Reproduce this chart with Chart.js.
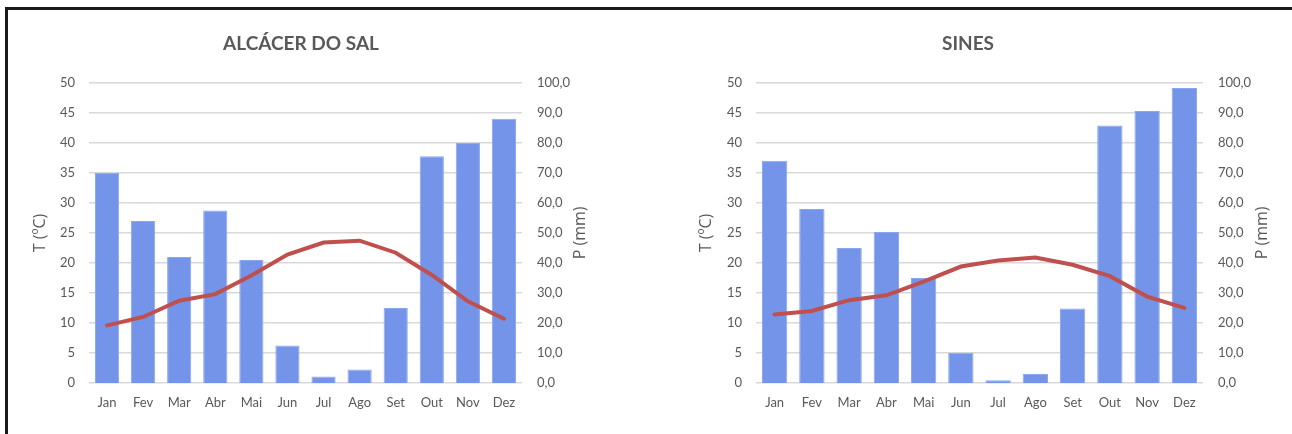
<!DOCTYPE html>
<html lang="pt">
<head>
<meta charset="UTF-8">
<title>Climogramas</title>
<script src="https://cdn.jsdelivr.net/npm/chart.js@4.4.0/dist/chart.umd.min.js"></script>
<style>
  body { margin: 0; background: #fff; width: 1292px; height: 434px; overflow: hidden; position: relative; }
  .moldura { position: absolute; left: 5px; top: 7px; width: 1300px; height: 440px;
             border-top: 3px solid #1a1a1a; border-left: 3px solid #1a1a1a; }
  canvas { position: absolute; }
  #grafAlcacer { left: 12px; top: 12px; }
  #grafSines { left: 664px; top: 12px; }
</style>
</head>
<body>
<div class="moldura"></div>
<canvas id="grafAlcacer" width="578" height="401"></canvas>
<canvas id="grafSines" width="608" height="401"></canvas>

<script>
  // meses
  const meses = ['Jan', 'Fev', 'Mar', 'Abr', 'Mai', 'Jun', 'Jul', 'Ago', 'Set', 'Out', 'Nov', 'Dez'];

  // Alcácer do Sal - precipitação (mm) e temperatura (ºC)
  const precAlcacer = [70, 54, 42, 57.5, 41, 12.5, 2.2, 4.5, 25, 75.5, 80, 88];
  const tempAlcacer = [9.6, 11.0, 13.7, 14.8, 17.9, 21.4, 23.4, 23.7, 21.7, 18.0, 13.6, 10.7];

  // Sines
  const precSines = [74, 58, 45, 50.3, 35, 10.1, 0.9, 3.0, 24.8, 85.8, 90.6, 98.3];
  const tempSines = [11.4, 12.0, 13.8, 14.6, 16.9, 19.4, 20.4, 20.9, 19.7, 17.8, 14.4, 12.5];

  const corTexto = '#595959';
  const fonteTicks = { family: 'Lato', size: 13 };

  // titulo do eixo direito escrito de baixo para cima (como no Excel)
  const tituloDireita = {
    id: 'tituloDireita',
    afterDraw(chart) {
      const ctx = chart.ctx;
      const y = chart.scales.y2;
      ctx.save();
      ctx.translate(y.right - 10, (chart.chartArea.top + chart.chartArea.bottom) / 2);
      ctx.rotate(-Math.PI / 2);
      ctx.fillStyle = corTexto;
      ctx.font = '16px "Open Sans"';
      ctx.textAlign = 'center';
      ctx.textBaseline = 'middle';
      ctx.fillText('P (mm)', 0, 0);
      ctx.restore();
    }
  };

  function criarGrafico(id, titulo, prec, temp, larguraEsq, larguraDir, padTituloEsq, catPct) {
    const config = {
      data: {
        labels: meses,
        datasets: [
          {
            type: 'line',
            label: 'T',
            data: temp,
            yAxisID: 'y',
            borderColor: '#C0504D',
            borderWidth: 4,
            pointRadius: 0,
            tension: 0,
            borderCapStyle: 'round',
            order: 0
          },
          {
            type: 'bar',
            label: 'P',
            data: prec,
            yAxisID: 'y2',
            backgroundColor: '#7494EA',
            borderColor: '#8aa6ee',
            borderWidth: 1,
            barPercentage: 1,
            categoryPercentage: catPct,
            order: 1
          }
        ]
      },
      options: {
        responsive: false,
        devicePixelRatio: 1,
        animation: false,
        layout: { padding: 0 },
        plugins: {
          legend: { display: false },
          tooltip: { enabled: false },
          title: {
            display: true,
            text: titulo,
            color: corTexto,
            font: { family: 'Lato', size: 19, weight: 'bold' },
            padding: { top: 20, bottom: 28 }
          }
        },
        scales: {
          x: {
            grid: { display: false, drawTicks: false },
            border: { display: false },
            ticks: { color: corTexto, font: fonteTicks, padding: 12 },
            afterFit(s) { s.height = 30; }
          },
          y: {
            position: 'left',
            min: 0, max: 50,
            ticks: { stepSize: 5, color: corTexto, font: fonteTicks, padding: 14 },
            grid: { color: '#d9d9d9', lineWidth: 1.5, drawTicks: false },
            border: { display: false },
            title: {
              display: true, text: 'T (ºC)', color: corTexto,
              font: { family: 'Open Sans', size: 16 },
              padding: { top: padTituloEsq, bottom: 0 }
            },
            afterFit(s) { s.width = larguraEsq; }
          },
          y2: {
            position: 'right',
            min: 0, max: 100,
            ticks: {
              stepSize: 10, color: corTexto, font: fonteTicks, padding: 15,
              callback: v => v.toFixed(1).replace('.', ',')
            },
            grid: { display: false, drawTicks: false },
            border: { display: false },
            afterFit(s) { s.width = larguraDir; }
          }
        }
      },
      plugins: [tituloDireita]
    };
    return new Chart(document.getElementById(id), config);
  }

  criarGrafico('grafAlcacer', 'ALCÁCER DO SAL', precAlcacer, tempAlcacer, 77, 68, 19, 0.67);
  criarGrafico('grafSines', 'SINES', precSines, tempSines, 92, 69, 33, 0.68);
</script>
</body>
</html>
